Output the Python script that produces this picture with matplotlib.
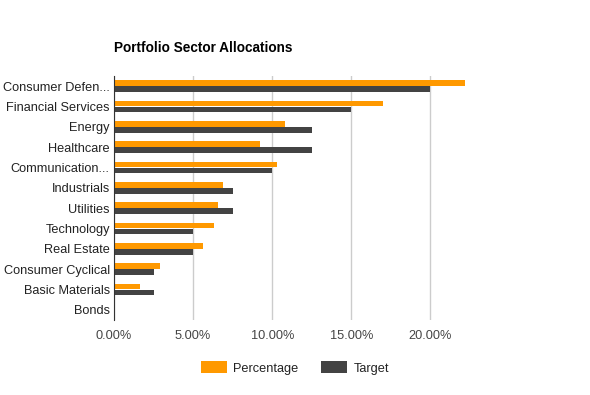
import matplotlib
matplotlib.use("Agg")
import matplotlib.pyplot as plt
import numpy as np
from matplotlib.ticker import FuncFormatter

sectors = ["Consumer Defen...", "Financial Services", "Energy", "Healthcare",
           "Communication...", "Industrials", "Utilities", "Technology",
           "Real Estate", "Consumer Cyclical", "Basic Materials", "Bonds"]
percentage = [22.2, 17.0, 10.8, 9.2, 10.3, 6.9, 6.6, 6.3, 5.6, 2.9, 1.65, 0.0]
target = [20.0, 15.0, 12.5, 12.5, 10.0, 7.5, 7.5, 5.0, 5.0, 2.5, 2.5, 0.0]
xticks = [0, 5, 10, 15, 20]

plt.rcParams["font.family"] = ["Liberation Sans", "DejaVu Sans"]

fig = plt.figure(figsize=(5.9, 3.95), dpi=100)
ax = fig.add_axes([114 / 590, 1 - 320 / 395, (470 - 114) / 590, (320 - 76) / 395])

y = np.arange(len(sectors))
h = 0.28
ax.barh(y - h / 2 - 0.01, percentage, height=h, color="#ff9900", label="Percentage", zorder=3)
ax.barh(y + h / 2 + 0.01, target, height=h, color="#434343", label="Target", zorder=3)

ax.set_ylim(len(sectors) - 0.5, -0.5)
ax.set_xlim(0, 22.5)
ax.set_yticks(y)
ax.set_yticklabels(sectors, fontsize=9.2, color="#222222")
ax.set_xticks(xticks)
ax.xaxis.set_major_formatter(FuncFormatter(lambda v, _: f"{v:.2f}%"))
ax.tick_params(axis="x", labelsize=9.2, labelcolor="#444444", length=0, pad=7)
ax.tick_params(axis="y", length=0, pad=3)
ax.grid(axis="x", color="#cccccc", linewidth=1, zorder=0)
for s in ["top", "right", "bottom"]:
    ax.spines[s].set_visible(False)
ax.spines["left"].set_color("#333333")
ax.spines["left"].set_zorder(4)

fig.text(114 / 590, 1 - 48 / 395, "Portfolio Sector Allocations", fontsize=9.8,
         fontweight="bold", color="#000000", va="center")

leg = fig.legend(loc="center", bbox_to_anchor=(295 / 590, 1 - 368 / 395), ncol=2,
                 frameon=False, fontsize=9.2, handlelength=2.0, handleheight=1.0,
                 columnspacing=1.8, handletextpad=0.5)
for t in leg.get_texts():
    t.set_color("#222222")

fig.savefig("out.png", dpi=100)
